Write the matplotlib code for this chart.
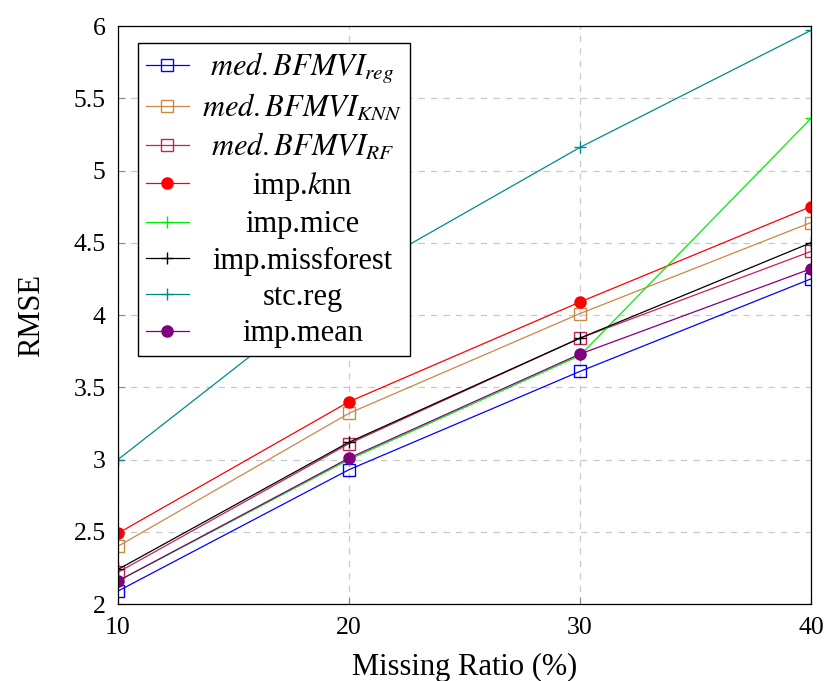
import matplotlib
matplotlib.use("Agg")
import matplotlib.pyplot as plt
from matplotlib.ticker import FuncFormatter

plt.rcParams['font.family'] = ['Liberation Serif', 'DejaVu Serif']
plt.rcParams['mathtext.fontset'] = 'stix'

# Data
missing_ratio = [10, 20, 30, 40]
bfmvi_reg = [2.09, 2.93, 3.61, 4.25]
bfmvi_knn = [2.40, 3.32, 4.01, 4.64]
bfmvi_rf = [2.22, 3.11, 3.84, 4.44]
imp_knn = [2.49, 3.40, 4.09, 4.75]
imp_mice = [2.16, 3.00, 3.72, 5.36]
imp_missforest = [2.24, 3.12, 3.84, 4.50]
stc_reg = [3.00, 4.25, 5.16, 5.97]
imp_mean = [2.16, 3.01, 3.73, 4.32]

series = [
    (bfmvi_reg, r'$med.BFMVI_{reg}$', '#0000ff', 's', 'none'),
    (bfmvi_knn, r'$med.BFMVI_{KNN}$', '#cc8844', 's', 'none'),
    (bfmvi_rf, r'$med.BFMVI_{RF}$', '#c8205a', 's', 'none'),
    (imp_knn, r'imp.$k$nn', '#ff0000', 'o', '#ff0000'),
    (imp_mice, 'imp.mice', '#00ee00', '+', None),
    (imp_missforest, 'imp.missforest', '#000000', '+', None),
    (stc_reg, 'stc.reg', '#008b8b', '+', None),
    (imp_mean, 'imp.mean', '#800080', 'o', '#800080'),
]

fig = plt.figure(figsize=(8.3, 6.81), dpi=100)
ax = fig.add_axes([0.1422, 0.113, 0.8348, 0.8488])

for vals, label, color, marker, mfc in series:
    kw = dict(color=color, marker=marker, linewidth=0.9, label=label)
    if marker == 's':
        kw.update(markersize=8, markerfacecolor='none', markeredgewidth=1.0)
    elif marker == 'o':
        kw.update(markersize=8, markerfacecolor=mfc, markeredgecolor=color)
    else:
        kw.update(markersize=9, markeredgewidth=1.0)
    ax.plot(missing_ratio, vals, **kw)

ax.set_xlim(10, 40)
ax.set_ylim(2, 6)
ax.set_xticks(missing_ratio)
ax.set_yticks([2, 2.5, 3, 3.5, 4, 4.5, 5, 5.5, 6])
ax.yaxis.set_major_formatter(FuncFormatter(lambda v, p: f"{v:g}"))
ax.tick_params(direction='in', length=5, width=0.8, color='#888888',
               labelsize=18.5, pad=9, top=False, right=False)
ax.grid(True, linestyle=(0, (5, 5)), color='#c8c8c8', linewidth=0.9)
ax.set_axisbelow(True)
for s in ax.spines.values():
    s.set_linewidth(0.9)
    s.set_color('black')

ax.set_xlabel('Missing Ratio (%)', fontsize=22, labelpad=10)
ax.set_ylabel('RMSE', fontsize=22, labelpad=20)

leg = ax.legend(loc='upper left', bbox_to_anchor=(0.029, 0.9706),
                borderaxespad=0, fontsize=22, frameon=True, fancybox=False,
                framealpha=1, edgecolor='black', handlelength=1.4,
                handletextpad=0.45, labelspacing=0.24, borderpad=0.25)
leg.get_frame().set_linewidth(1.0)

# center legend entries as in the original
fig.canvas.draw()
renderer = fig.canvas.get_renderer()
texts = leg.get_texts()
widths = [t.get_window_extent(renderer).width for t in texts]
maxw = max(widths)
for t, w in zip(texts, widths):
    t.set_position(((maxw - w) / 2, 0))

fig.savefig('out.png', dpi=100)
